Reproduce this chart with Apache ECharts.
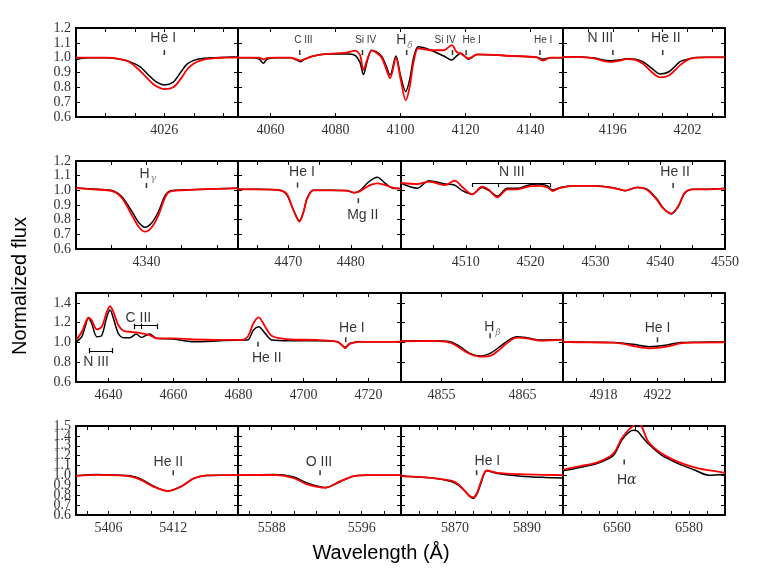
<!DOCTYPE html>
<html>
<head>
<meta charset="utf-8">
<script src="https://cdn.jsdelivr.net/npm/echarts@6/dist/echarts.min.js"></script>
<style>
html, body { margin: 0; background: #fff; }
#main { width: 763px; height: 572px; }
</style>
</head>
<body>
<div id="main"></div>
<script>
// observed (black) and model (red) normalized flux, per window
var heI4026Wl  = [4023.0, 4023.15, 4023.4, 4024.0, 4024.5, 4024.8, 4025.17, 4025.45, 4025.7, 4026.0, 4026.3, 4026.55, 4026.76, 4027.0, 4027.3, 4027.7, 4028.1, 4028.5];
var heI4026Obs = [0.985, 0.995, 1.0, 1.0, 0.99, 0.975, 0.939, 0.885, 0.84, 0.816, 0.835, 0.9, 0.955, 0.982, 0.995, 1.0, 1.003, 1.005];
var heI4026Mod = [1.0, 1.0, 1.0, 1.0, 0.99, 0.972, 0.912, 0.855, 0.81, 0.788, 0.80, 0.855, 0.917, 0.96, 0.985, 0.997, 1.0, 1.002];

var hDeltaWl  = [4050, 4054, 4056.5, 4057.8, 4059, 4062, 4066, 4068, 4069.1, 4070.5, 4073, 4077.3, 4083.4, 4086, 4087.5, 4088.6, 4089.8, 4091.1, 4092.5, 4094.2, 4095.5, 4096.8, 4098.6, 4100.0, 4101.6, 4102.8, 4104.1, 4105.5, 4109.2, 4113.3, 4115.8, 4117.2, 4118.5, 4121.0, 4123.6, 4134.7, 4141.9, 4143.8, 4146, 4150];
var hDeltaObs = [1.0, 1.0, 0.99, 0.963, 0.99, 1.0, 1.0, 0.985, 0.973, 0.99, 1.01, 1.025, 1.025, 1.016, 0.97, 0.886, 0.98, 1.05, 1.04, 1.01, 0.95, 0.883, 1.011, 0.88, 0.771, 0.85, 1.007, 1.074, 1.052, 1.011, 0.984, 1.01, 1.029, 0.989, 1.022, 1.011, 1.002, 0.99, 1.0, 1.0];
var hDeltaMod = [1.0, 1.0, 1.0, 0.988, 0.998, 1.0, 1.0, 0.99, 0.98, 0.99, 1.01, 1.025, 1.034, 1.047, 1.02, 0.917, 0.99, 1.047, 1.035, 1.0, 0.93, 0.861, 0.996, 0.86, 0.712, 0.80, 0.98, 1.063, 1.05, 1.05, 1.085, 1.04, 1.029, 0.995, 1.022, 1.011, 1.002, 0.98, 1.0, 1.0];

var heII4200Wl  = [4192, 4193.5, 4194.5, 4195.2, 4195.8, 4196.5, 4197.1, 4197.8, 4198.4, 4199.1, 4199.8, 4200.5, 4201.4, 4202.0, 4202.5, 4203.5, 4205];
var heII4200Obs = [1.007, 1.005, 0.998, 0.985, 0.98, 0.985, 0.993, 0.99, 0.973, 0.93, 0.89, 0.905, 0.973, 0.99, 1.0, 1.002, 1.002];
var heII4200Mod = [1.005, 1.003, 0.995, 0.978, 0.971, 0.978, 0.99, 0.985, 0.96, 0.905, 0.867, 0.88, 0.95, 0.985, 0.998, 1.002, 1.002];

var hGammaWl  = [4330, 4332, 4334.8, 4335.8, 4336.7, 4338.1, 4339.0, 4339.8, 4340.7, 4341.7, 4342.5, 4343.1, 4344, 4347, 4350, 4353];
var hGammaObs = [1.018, 1.01, 1.002, 0.985, 0.946, 0.843, 0.775, 0.748, 0.775, 0.854, 0.95, 0.99, 1.0, 1.005, 1.01, 1.015];
var hGammaMod = [1.015, 1.008, 0.998, 0.98, 0.935, 0.816, 0.745, 0.718, 0.745, 0.83, 0.935, 0.985, 0.998, 1.005, 1.01, 1.015];

var heI4471Wl  = [4462, 4465, 4468.7, 4469.8, 4470.8, 4471.8, 4472.5, 4473.0, 4474.0, 4477, 4479.4, 4480.5, 4481.5, 4482.6, 4483.4, 4484.2, 4485.5, 4486.5, 4488];
var heI4471Obs = [1.007, 1.007, 1.0, 0.968, 0.87, 0.793, 0.86, 0.946, 1.0, 1.0, 0.998, 0.984, 1.0, 1.048, 1.075, 1.089, 1.048, 1.018, 1.012];
var heI4471Mod = [1.007, 1.007, 1.0, 0.975, 0.87, 0.786, 0.86, 0.94, 1.0, 1.0, 0.998, 0.984, 0.995, 1.025, 1.04, 1.048, 1.035, 1.02, 1.01];

var heII4542Wl  = [4500, 4502.5, 4504.3, 4506.8, 4508.3, 4509.4, 4511, 4512.5, 4513.5, 4514.9, 4516.4, 4518, 4519.6, 4521.2, 4522.6, 4523.4, 4524.5, 4526.6, 4529.7, 4532.8, 4534.6, 4536.4, 4537.9, 4539.4, 4540.5, 4541.7, 4542.8, 4543.8, 4545.1, 4547.1, 4550];
var heII4542Obs = [1.048, 1.014, 1.066, 1.043, 1.035, 1.0, 0.973, 1.02, 1.0, 0.961, 1.014, 1.014, 1.035, 1.043, 1.03, 1.002, 1.018, 1.032, 1.032, 1.018, 0.998, 1.02, 1.01, 0.946, 0.878, 0.839, 0.89, 0.98, 1.007, 1.007, 1.014];
var heII4542Mod = [1.05, 1.043, 1.059, 1.035, 1.066, 1.025, 0.973, 1.025, 1.005, 0.952, 1.007, 1.007, 1.025, 1.03, 1.02, 0.995, 1.015, 1.03, 1.03, 1.016, 0.998, 1.02, 1.005, 0.94, 0.875, 0.843, 0.893, 0.985, 1.007, 1.007, 1.012];

var heII4686Wl  = [4630.2, 4631.8, 4632.8, 4633.8, 4634.8, 4636.4, 4637.9, 4639.5, 4640.5, 4641.5, 4643, 4644.6, 4646.6, 4648.5, 4650.2, 4652.6, 4654.8, 4660, 4666.1, 4673.3, 4680.5, 4682.8, 4684.6, 4686.2, 4688.2, 4690.3, 4695.9, 4704.1, 4710.3, 4711.8, 4712.8, 4714.2, 4717.5, 4725.7, 4730];
var heII4686Obs = [1.008, 1.058, 1.159, 1.244, 1.194, 1.058, 1.07, 1.26, 1.328, 1.244, 1.092, 1.048, 1.048, 1.085, 1.051, 1.085, 1.042, 1.035, 1.008, 1.015, 1.025, 1.025, 1.126, 1.159, 1.092, 1.025, 1.018, 1.018, 1.008, 0.974, 0.951, 0.991, 1.008, 1.008, 1.01];
var heII4686Mod = [1.03, 1.108, 1.19, 1.25, 1.227, 1.132, 1.159, 1.31, 1.368, 1.31, 1.176, 1.119, 1.108, 1.102, 1.092, 1.075, 1.042, 1.042, 1.03, 1.025, 1.025, 1.058, 1.194, 1.254, 1.159, 1.065, 1.03, 1.025, 1.008, 0.974, 0.941, 0.985, 1.005, 1.005, 1.005];

var hBetaWl  = [4850, 4853.6, 4856.1, 4857.3, 4858.5, 4859.8, 4861, 4862.2, 4863.3, 4864.3, 4865.5, 4867.2, 4870];
var hBetaObs = [1.015, 1.018, 1.008, 0.957, 0.89, 0.863, 0.89, 0.957, 1.024, 1.058, 1.048, 1.025, 1.03];
var hBetaMod = [1.012, 1.015, 0.998, 0.941, 0.883, 0.856, 0.863, 0.93, 1.008, 1.048, 1.042, 1.018, 1.025];

var heI4922Wl  = [4915, 4917, 4918.7, 4919.5, 4920.2, 4921.4, 4922.7, 4923.7, 4925, 4927];
var heI4922Obs = [1.008, 1.003, 1.0, 0.993, 0.981, 0.957, 0.974, 1.0, 1.003, 1.005];
var heI4922Mod = [1.005, 1.0, 0.998, 0.985, 0.964, 0.941, 0.957, 0.991, 0.998, 1.0];

var heII5412Wl  = [5403, 5404.9, 5407, 5408, 5408.9, 5410.2, 5411.5, 5412.8, 5413.9, 5415.1, 5416.5, 5418];
var heII5412Obs = [0.996, 1.01, 1.003, 0.996, 0.97, 0.892, 0.842, 0.892, 0.97, 1.0, 1.003, 1.003];
var heII5412Mod = [0.996, 1.005, 1.0, 0.99, 0.96, 0.885, 0.842, 0.892, 0.97, 1.0, 1.003, 1.003];

var oIIIWl  = [5585, 5588.2, 5589.9, 5591.1, 5592.8, 5594.1, 5595.3, 5596.5, 5599.5];
var oIIIObs = [1.003, 1.01, 0.986, 0.926, 0.879, 0.936, 0.993, 1.003, 1.003];
var oIIIMod = [1.003, 1.005, 0.976, 0.913, 0.875, 0.943, 0.993, 1.003, 1.003];

var heI5876Wl  = [5855, 5863.2, 5869.2, 5871, 5872.5, 5874, 5875.1, 5876.2, 5877.2, 5878.8, 5881.8, 5888.3, 5895, 5900];
var heI5876Obs = [0.993, 0.976, 0.936, 0.9, 0.852, 0.79, 0.768, 0.82, 0.919, 1.047, 1.02, 0.993, 0.98, 0.975];
var heI5876Mod = [0.993, 0.976, 0.946, 0.91, 0.852, 0.795, 0.778, 0.83, 0.936, 1.05, 1.027, 1.013, 1.006, 1.003];

var hAlphaWl  = [6545, 6549.7, 6554.4, 6558.1, 6559.4, 6561.3, 6563.1, 6564.5, 6565.6, 6566.8, 6568.7, 6572.4, 6577, 6581.7, 6585.4, 6590];
var hAlphaObs = [1.047, 1.081, 1.121, 1.178, 1.222, 1.356, 1.43, 1.457, 1.45, 1.4, 1.32, 1.205, 1.12, 1.053, 1.003, 1.01];
var hAlphaMod = [1.06, 1.094, 1.13, 1.195, 1.239, 1.373, 1.457, 1.5, 1.53, 1.5, 1.34, 1.222, 1.138, 1.08, 1.053, 1.026];

// y tick values per row
var yTicksA = [0.6, 0.7, 0.8, 0.9, 1.0, 1.1, 1.2];
var yTicksB = [0.6, 0.8, 1.0, 1.2, 1.4];
var yTicksC = [0.6, 0.7, 0.8, 0.9, 1.0, 1.1, 1.2, 1.3, 1.4, 1.5];

// line identifications: [panel, wavelength, flux]
var lineMarks = [
  [0, 4026, 1.035],
  [1, 4069, 1.035], [1, 4088.3, 1.035], [1, 4101.9, 1.035], [1, 4116, 1.035], [1, 4120.2, 1.035], [1, 4142.9, 1.035],
  [2, 4196, 1.035], [2, 4200, 1.035],
  [3, 4340, 1.033],
  [4, 4471.5, 1.036], [4, 4481.2, 0.929],
  [5, 4542, 1.033],
  [6, 4686, 0.982], [6, 4713, 1.027],
  [7, 4861, 1.067],
  [8, 4922, 1.027],
  [9, 5412, 1.028],
  [10, 5592.3, 1.028],
  [11, 5876, 1.028],
  [12, 6562, 1.136]
];
// labels: [panel, wavelength, flux, text, small]
var lineTexts = [
  [0, 4025.96, 1.13, 'He I', 0],
  [1, 4070.1, 1.119, 'C III', 1], [1, 4089.3, 1.119, 'Si IV', 1], [1, 4101.2, 1.116, '{h|H}{s|δ}', 0],
  [1, 4113.7, 1.119, 'Si IV', 1], [1, 4121.9, 1.119, 'He I', 1], [1, 4143.9, 1.119, 'He I', 1],
  [2, 4195.0, 1.13, 'N III', 0], [2, 4200.25, 1.13, 'He II', 0],
  [3, 4340.2, 1.112, '{h|H}{s|γ}', 0],
  [4, 4472.2, 1.127, 'He I', 0], [4, 4481.9, 0.832, 'Mg II', 0],
  [5, 4517.1, 1.127, 'N III', 0], [5, 4542.3, 1.127, 'He II', 0],
  [6, 4649.2, 1.244, 'C III', 0], [6, 4636.2, 0.8, 'N III', 0], [6, 4688.7, 0.84, 'He II', 0], [6, 4714.9, 1.143, 'He I', 0],
  [7, 4861.3, 1.15, '{h|H}{s|β}', 0],
  [8, 4922, 1.143, 'He I', 0],
  [9, 5411.55, 1.137, 'He II', 0],
  [10, 5592.2, 1.137, 'O III', 0],
  [11, 5879, 1.147, 'He I', 0],
  [12, 6562.7, 0.953, '{h|H}{i|α}', 0]
];
// blend brackets: [panel, x1, y1, x2, y2]
var brackets = [
  [5, 4511, 1.048, 4523, 1.048], [5, 4511, 1.048, 4511, 1.022], [5, 4515, 1.048, 4515, 1.022], [5, 4523, 1.048, 4523, 1.022],
  [6, 4648, 1.176, 4655, 1.176], [6, 4648, 1.19, 4648, 1.135], [6, 4650.2, 1.19, 4650.2, 1.135], [6, 4655, 1.19, 4655, 1.135],
  [6, 4634.1, 0.915, 4641.2, 0.915], [6, 4634.1, 0.945, 4634.1, 0.89], [6, 4641.2, 0.945, 4641.2, 0.89]
];

var rows = [
  { top: 28, height: 89, min: 0.6, max: 1.2, ticks: yTicksA, split: true },
  { top: 161, height: 88, min: 0.6, max: 1.2, ticks: yTicksA, split: true },
  { top: 293, height: 89, min: 0.6, max: 1.5, ticks: yTicksB, split: false },
  { top: 426, height: 89, min: 0.6, max: 1.5, ticks: yTicksC, split: true }
];

var panels = [
  { row: 0, x0: 76, x1: 238, min: 4023, max: 4028.5, ticks: [4024, 4025, 4026, 4027, 4028], labels: [4026], wl: heI4026Wl, obs: heI4026Obs, mod: heI4026Mod },
  { row: 0, x0: 238, x1: 563, min: 4050, max: 4150, ticks: [4060, 4080, 4100, 4120, 4140], labels: [4060, 4080, 4100, 4120, 4140], wl: hDeltaWl, obs: hDeltaObs, mod: hDeltaMod },
  { row: 0, x0: 563, x1: 725, min: 4192, max: 4205, ticks: [4194, 4196, 4198, 4200, 4202, 4204], labels: [4196, 4202], wl: heII4200Wl, obs: heII4200Obs, mod: heII4200Mod },
  { row: 1, x0: 76, x1: 238, min: 4330, max: 4353, ticks: [4335, 4340, 4345, 4350], labels: [4340], wl: hGammaWl, obs: hGammaObs, mod: hGammaMod },
  { row: 1, x0: 238, x1: 401, min: 4462, max: 4488, ticks: [4465, 4470, 4475, 4480, 4485], labels: [4470, 4480], wl: heI4471Wl, obs: heI4471Obs, mod: heI4471Mod },
  { row: 1, x0: 401, x1: 725, min: 4500, max: 4550, ticks: [4505, 4510, 4515, 4520, 4525, 4530, 4535, 4540, 4545], labels: [4510, 4520, 4530, 4540, 4550], wl: heII4542Wl, obs: heII4542Obs, mod: heII4542Mod },
  { row: 2, x0: 76, x1: 401, min: 4630, max: 4730, ticks: [4640, 4650, 4660, 4670, 4680, 4690, 4700, 4710, 4720], labels: [4640, 4660, 4680, 4700, 4720], wl: heII4686Wl, obs: heII4686Obs, mod: heII4686Mod },
  { row: 2, x0: 401, x1: 563, min: 4850, max: 4870, ticks: [4855, 4860, 4865], labels: [4855, 4865], wl: hBetaWl, obs: hBetaObs, mod: hBetaMod },
  { row: 2, x0: 563, x1: 725, min: 4915, max: 4927, ticks: [4916, 4918, 4920, 4922, 4924, 4926], labels: [4918, 4922], wl: heI4922Wl, obs: heI4922Obs, mod: heI4922Mod },
  { row: 3, x0: 76, x1: 238, min: 5403, max: 5418, ticks: [5404, 5406, 5408, 5410, 5412, 5414, 5416], labels: [5406, 5412], wl: heII5412Wl, obs: heII5412Obs, mod: heII5412Mod },
  { row: 3, x0: 238, x1: 401, min: 5585, max: 5599.5, ticks: [5586, 5588, 5590, 5592, 5594, 5596, 5598], labels: [5588, 5596], wl: oIIIWl, obs: oIIIObs, mod: oIIIMod },
  { row: 3, x0: 401, x1: 563, min: 5855, max: 5900, ticks: [5860, 5865, 5870, 5875, 5880, 5885, 5890, 5895], labels: [5870, 5890], wl: heI5876Wl, obs: heI5876Obs, mod: heI5876Mod },
  { row: 3, x0: 563, x1: 725, min: 6545, max: 6590, ticks: [6550, 6555, 6560, 6565, 6570, 6575, 6580, 6585], labels: [6560, 6580], wl: hAlphaWl, obs: hAlphaObs, mod: hAlphaMod }
];

var sans = 'Liberation Sans';
var frame = { show: true, onZero: false, lineStyle: { color: '#000', width: 2 } };
var tickFont = { color: '#333', fontFamily: 'Liberation Serif', fontSize: 14 };
function xFmt(v) { return String(Math.round(v)); }
function yFmt(v) { return v.toFixed(1); }

var option = {
  animation: false,
  backgroundColor: '#fff',
  grid: [], xAxis: [], yAxis: [], series: [],
  graphic: [
    { type: 'text', x: 20, y: 286, rotation: Math.PI / 2,
      style: { text: 'Normalized flux', fontSize: 20, fontFamily: sans, fill: '#000', align: 'center', verticalAlign: 'middle' } },
    { type: 'text', x: 381, y: 553,
      style: { text: 'Wavelength (Å)', fontSize: 20, fontFamily: sans, fill: '#000', align: 'center', verticalAlign: 'middle' } }
  ]
};

function pick(arr, parity) {
  return arr.filter(function (v, k) { return k % 2 === parity; });
}

panels.forEach(function (p, i) {
  var r = rows[p.row];
  var firstCol = p.x0 === 76;
  option.grid.push({ left: p.x0, top: r.top, width: p.x1 - p.x0, height: r.height });
  ['bottom', 'top'].forEach(function (pos) {
    option.xAxis.push({
      gridIndex: i, type: 'value', position: pos, min: p.min, max: p.max,
      axisLine: frame,
      axisTick: { inside: true, length: 4, customValues: p.ticks, lineStyle: { color: '#000', width: 1 } },
      axisLabel: Object.assign({ show: pos === 'bottom', customValues: p.labels, margin: 6,
        showMinLabel: true, showMaxLabel: true, formatter: xFmt }, tickFont),
      splitLine: { show: false }
    });
  });
  ['left', 'right'].forEach(function (pos) {
    option.yAxis.push({
      gridIndex: i, type: 'value', position: pos, min: r.min, max: r.max,
      axisLine: frame,
      axisTick: { inside: true, length: 4, customValues: r.ticks, lineStyle: { color: '#000', width: 1 } },
      axisLabel: Object.assign({ show: pos === 'left' && firstCol, customValues: r.split ? pick(r.ticks, 0) : r.ticks, margin: 5,
        showMinLabel: true, showMaxLabel: true, formatter: yFmt }, tickFont),
      splitLine: { show: false }
    });
  });
  [[p.obs, '#000', 1.5], [p.mod, '#ff0000', 1.8]].forEach(function (s) {
    option.series.push({
      type: 'line', xAxisIndex: 2 * i, yAxisIndex: 2 * i,
      data: p.wl.map(function (w, k) { return [w, s[0][k]]; }),
      showSymbol: false, smooth: 0.3, clip: true, silent: true,
      lineStyle: { color: s[1], width: s[2] }
    });
  });
  option.series.push({
    type: 'scatter', xAxisIndex: 2 * i, yAxisIndex: 2 * i, silent: true,
    symbol: 'rect', symbolSize: [1.5, 5], itemStyle: { color: '#000' },
    data: lineMarks.filter(function (m) { return m[0] === i; }).map(function (m) { return [m[1], m[2]]; })
  });
  option.series.push({
    type: 'scatter', xAxisIndex: 2 * i, yAxisIndex: 2 * i, silent: true, symbolSize: 0,
    data: lineTexts.filter(function (t) { return t[0] === i; }).map(function (t) {
      return {
        value: [t[1], t[2]],
        label: {
          show: true, position: 'inside', formatter: t[3], color: '#000',
          fontFamily: sans, fontSize: t[4] ? 10 : 14,
          rich: {
            h: { fontFamily: sans, fontSize: 14, color: '#000' },
            s: { fontFamily: 'DejaVu Serif', fontStyle: 'italic', fontSize: 9, color: '#555', padding: [10, 0, 0, 1] },
            i: { fontFamily: 'DejaVu Serif', fontStyle: 'italic', fontSize: 14, color: '#000' }
          }
        }
      };
    })
  });
  var br = brackets.filter(function (b) { return b[0] === i; });
  if (br.length) {
    option.series.push({
      type: 'lines', coordinateSystem: 'cartesian2d', xAxisIndex: 2 * i, yAxisIndex: 2 * i, silent: true,
      lineStyle: { color: '#000', width: 1.2, opacity: 1 },
      data: br.map(function (b) { return { coords: [[b[1], b[2]], [b[3], b[4]]] }; })
    });
  }
});

// second set of left labels (odd ticks) on overlay grids, so crowded labels are not dropped
rows.forEach(function (r) {
  if (!r.split) return;
  var g = option.grid.length;
  option.grid.push({ left: 76, top: r.top, width: 162, height: r.height });
  option.xAxis.push({ gridIndex: g, type: 'value', min: 0, max: 1, show: false });
  option.yAxis.push({
    gridIndex: g, type: 'value', position: 'left', min: r.min, max: r.max,
    axisLine: { show: false }, axisTick: { show: false }, splitLine: { show: false },
    axisLabel: Object.assign({ customValues: pick(r.ticks, 1), margin: 5, showMinLabel: true, showMaxLabel: true,
      formatter: yFmt }, tickFont)
  });
});

var chart = echarts.init(document.getElementById('main'));
chart.setOption(option);
</script>
</body>
</html>
